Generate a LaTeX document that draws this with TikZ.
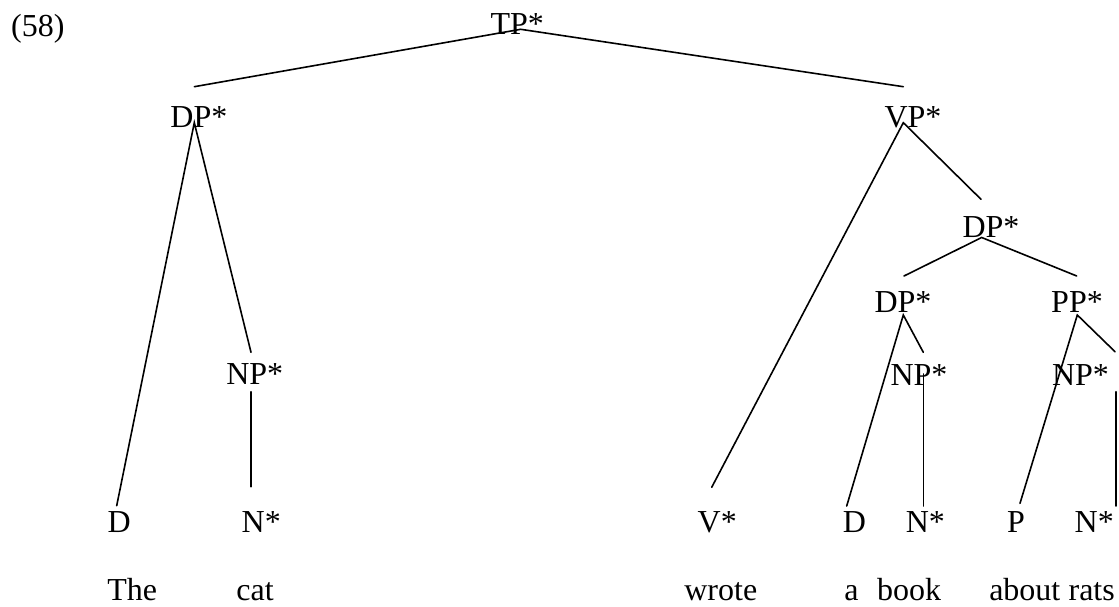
\documentclass[tikz,border=0pt]{standalone}
\usepackage{fontspec}
\setmainfont{Liberation Serif}
\begin{document}
\begin{tikzpicture}[x=1pt,y=-1pt,
  lbl/.style={inner sep=0pt,anchor=base,font=\fontsize{32}{38}\selectfont},
  edge/.style={line width=1.6pt,line cap=round}]
\useasboundingbox (0,0) rectangle (1119,607);
% labels
\node[lbl] (ex) at (37.9,37) {(58)};
\node[lbl] (tp) at (517.2,35) {TP*};
\node[lbl] (dpL) at (198.9,127.7) {DP*};
\node[lbl] (vp) at (913,127.7) {VP*};
\node[lbl] (dpM) at (991,237) {DP*};
\node[lbl] (dpS) at (903,312) {DP*};
\node[lbl] (pp) at (1077,312) {PP*};
\node[lbl] (npL) at (254.8,384) {NP*};
\node[lbl] (npD) at (919,385) {NP*};
\node[lbl] (npP) at (1080.5,385) {NP*};
\node[lbl] (dL) at (119.2,532) {D};
\node[lbl] (nL) at (261.3,532) {N*};
\node[lbl] (v) at (717.2,532) {V*};
\node[lbl] (dR) at (854.5,532) {D};
\node[lbl] (nD) at (925.3,532) {N*};
\node[lbl] (p) at (1016,532) {P};
\node[lbl] (nP) at (1094.2,532) {N*};
\node[lbl] (w1) at (132.2,600) {The};
\node[lbl] (w2) at (255,600) {cat};
\node[lbl] (w3) at (720.8,600) {wrote};
\node[lbl] (w4) at (851.5,600) {a};
\node[lbl] (w5) at (909,600) {book};
\node[lbl] (w6) at (1024.8,600) {about};
\node[lbl] (w7) at (1091.7,600) {rats};
% connector end points
\coordinate (tpB) at (520.7,29.3);
\coordinate (dpLT) at (194.3,86.7);
\coordinate (vpT) at (903.3,86.7);
\coordinate (dpLB) at (194.3,122.7);
\coordinate (dLT) at (116.7,505.7);
\coordinate (npLT) at (251,352.3);
\coordinate (npLB) at (251,391.7);
\coordinate (nLT) at (251,486.7);
\coordinate (vpB) at (903.3,122.7);
\coordinate (vT) at (711.7,487.3);
\coordinate (dpMT) at (981,199.3);
\coordinate (dpMB) at (981.7,237.5);
\coordinate (dpST) at (904,276);
\coordinate (ppT) at (1076.7,276);
\coordinate (dpSB) at (903.3,315);
\coordinate (dRT) at (846.7,506);
\coordinate (npDT) at (923.3,352.3);
\coordinate (npDB) at (923.3,374);
\coordinate (nDT) at (923.3,506);
\coordinate (ppB) at (1077.3,315);
\coordinate (pT) at (1020,503.3);
\coordinate (npPT) at (1115,351.7);
\coordinate (npPB) at (1116,391.7);
\coordinate (nPT) at (1116,506);
% connectors
\draw[edge] (dpLT) -- (tpB) -- (vpT);
\draw[edge] (dLT) -- (dpLB) -- (npLT);
\draw[edge] (npLB) -- (nLT);
\draw[edge] (vT) -- (vpB) -- (dpMT);
\draw[edge] (dpST) -- (dpMB) -- (ppT);
\draw[edge] (dRT) -- (dpSB) -- (npDT);
\draw[edge] (npDB) -- (nDT);
\draw[edge] (pT) -- (ppB) -- (npPT);
\draw[edge] (npPB) -- (nPT);
\end{tikzpicture}
\end{document}
